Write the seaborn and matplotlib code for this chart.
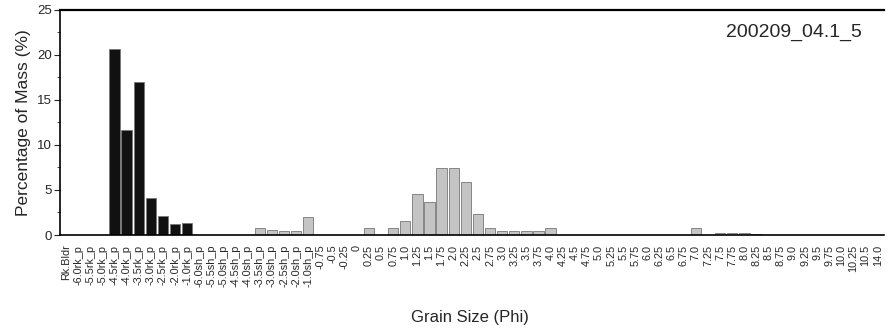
import numpy as np
import pandas as pd
import seaborn as sns
import matplotlib
matplotlib.use('Agg')
import matplotlib.pyplot as plt
from matplotlib.ticker import MultipleLocator

sns.set_theme(style="white")
plt.rcParams['font.family'] = ['Liberation Sans', 'DejaVu Sans']

# ====================== data ======================
rock_labels = ["Rk.Bldr", "-6.0rk_p", "-5.5rk_p", "-5.0rk_p", "-4.5rk_p", "-4.0rk_p",
               "-3.5rk_p", "-3.0rk_p", "-2.5rk_p", "-2.0rk_p", "-1.0rk_p"]
rock_values = [0, 0, 0, 0, 20.6, 11.7, 17.0, 4.1, 2.1, 1.25, 1.3]

shell_labels = ["-6.0sh_p", "-5.5sh_p", "-5.0sh_p", "-4.5sh_p", "-4.0sh_p",
                "-3.5sh_p", "-3.0sh_p", "-2.5sh_p", "-2.0sh_p", "-1.0sh_p"]
shell_values = [0, 0, 0, 0, 0, 0.75, 0.55, 0.5, 0.4, 2.0]

phi_labels = ["-0.75", "-0.5", "-0.25", "0", "0.25", "0.5", "0.75", "1.0", "1.25", "1.5",
              "1.75", "2.0", "2.25", "2.5", "2.75", "3.0", "3.25", "3.5", "3.75", "4.0",
              "4.25", "4.5", "4.75", "5.0", "5.25", "5.5", "5.75", "6.0", "6.25", "6.5",
              "6.75", "7.0", "7.25", "7.5", "7.75", "8.0", "8.25", "8.5", "8.75", "9.0",
              "9.25", "9.5", "9.75", "10.0", "10.25", "10.5", "14.0"]
phi_values = [0, 0, 0, 0, 0.75, 0, 0.8, 1.55, 4.5, 3.7,
              7.4, 7.4, 5.9, 2.3, 0.75, 0.45, 0.45, 0.5, 0.45, 0.8,
              0, 0, 0, 0, 0, 0, 0, 0, 0, 0,
              0, 0.8, 0, 0.25, 0.2, 0.2, 0.15, 0, 0, 0,
              0, 0, 0, 0, 0, 0, 0]

sample_name = "200209_04.1_5"

df = pd.DataFrame({
    "size": rock_labels + shell_labels + phi_labels,
    "mass": rock_values + shell_values + phi_values,
    "kind": ["rock"] * len(rock_labels) + ["fine"] * (len(shell_labels) + len(phi_labels)),
})

# ====================== plot ======================
fig = plt.figure(figsize=(8.9, 3.29), dpi=100)
ax = fig.add_axes([0.0674, 0.2857, 0.9256, 0.6843])

sns.barplot(data=df, x="size", y="mass", hue="kind", order=df["size"],
            palette={"rock": "#111111", "fine": "#c4c4c4"}, dodge=False,
            width=0.85, legend=False, ax=ax, edgecolor="#777777", linewidth=0.6)

ax.set_xlim(-0.5, len(df) - 0.5)
ax.set_ylim(0, 25)
ax.yaxis.set_major_locator(MultipleLocator(5))
ax.yaxis.set_minor_locator(MultipleLocator(2.5))
ax.tick_params(axis="y", which="major", left=True, length=4, width=0.8, labelsize=9.5, pad=2)
ax.tick_params(axis="y", which="minor", left=True, length=2, width=0.6)
ax.tick_params(axis="x", bottom=False, labelsize=7.8, pad=1)
plt.setp(ax.get_xticklabels(), rotation=90)

for side in ["left", "bottom"]:
    ax.spines[side].set_color("black")
    ax.spines[side].set_linewidth(1.2)
ax.spines["top"].set_color("black")
ax.spines["top"].set_linewidth(1.6)
ax.spines["right"].set_visible(False)

ax.set_ylabel("Percentage of Mass (%)", fontsize=12.5, labelpad=4)
ax.set_xlabel("")
fig.text(0.528, 0.035, "Grain Size (Phi)", ha="center", va="center", fontsize=12)
ax.text(0.973, 0.90, sample_name, transform=ax.transAxes, ha="right", va="center", fontsize=14)

fig.savefig("out.png", dpi=100)
plt.close(fig)
